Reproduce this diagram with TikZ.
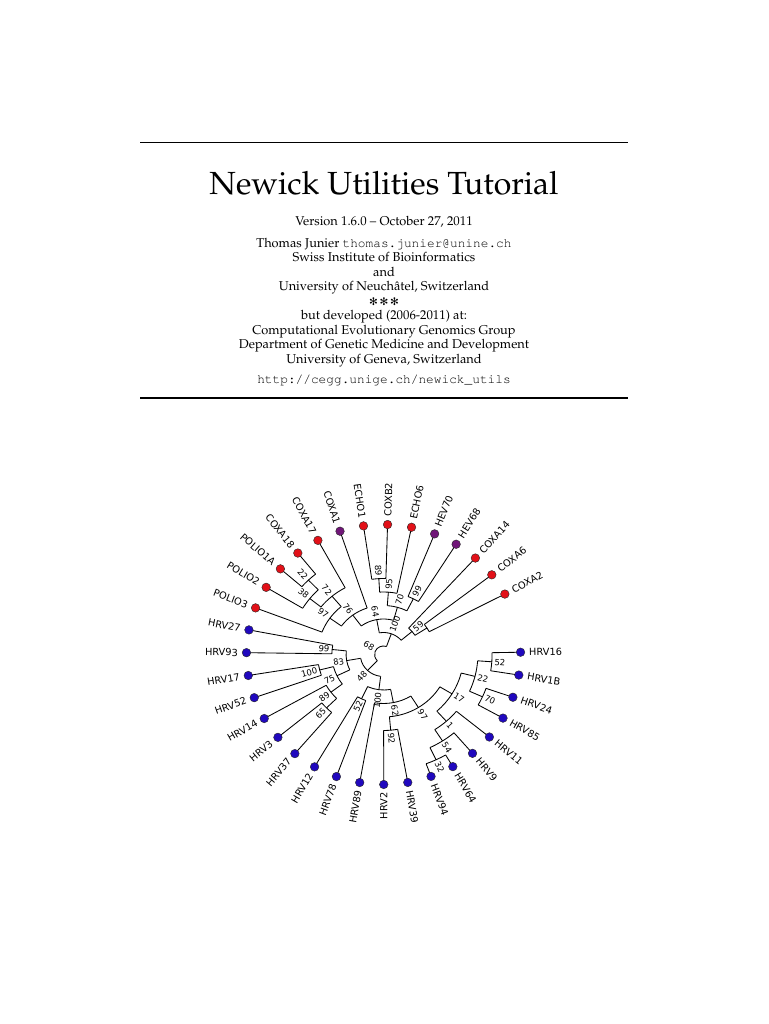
\documentclass[tikz,border=0pt]{standalone}
\usepackage[T1]{fontenc}
\usepackage{fontspec}
\newfontfamily\leaffont{DejaVu Sans}
\newcommand\pal{\fontencoding{T1}\fontfamily{ppl}\selectfont}
\newcommand\cour{\fontencoding{T1}\fontfamily{pcr}\selectfont}
\newcommand\titlefont{\pal\fontsize{32}{38}\selectfont}
\newcommand\bodyfont{\pal\fontsize{12.8}{14.5}\selectfont}
\newcommand\urlfont{\cour\fontsize{12.8}{14.5}\selectfont}
\newcommand\starfont{\leaffont\fontsize{10.5}{14.5}\selectfont}
\newcommand\leafsize{\leaffont\fontsize{9.8}{12}\selectfont}
\newcommand\supsize{\leaffont\fontsize{8.5}{10}\selectfont}

\definecolor{entred}{RGB}{226,16,24}
\definecolor{hevpurple}{RGB}{112,22,120}
\definecolor{hrvblue}{RGB}{32,8,190}

\tikzset{
  branch/.style={line width=0.85pt},
  leafdot/.style={circle, draw=black!85, line width=0.4pt, fill=#1, minimum size=8.6pt, inner sep=0pt},
  leafname/.style={font=\leafsize, inner sep=0pt},
  support/.style={font=\supsize, inner sep=1pt},
  rule/.style={line width=1.6pt},
}

% text set along a radius, turned so that it never reads upside down
\newcommand\radlabel[5]{%
  \pgfmathtruncatemacro\rgt{cos(#2)>0.01}%
  \ifnum\rgt=1
    \node[#4, rotate=#2, anchor=west] (#1) at (#2:#3) {#5};
  \else
    \node[#4, rotate=#2+180, anchor=east] (#1) at (#2:#3) {#5};
  \fi}

\begin{document}
\begin{tikzpicture}[x=1pt,y=1pt]
    \path[fill=white] (0,0) rectangle (768,1024);
    \useasboundingbox (0,0) rectangle (768,1024);

    % Title block
    \draw[rule] (140,881.3) -- (628,881.3);
    \node[font=\titlefont, anchor=base] (title) at (384,829) {Newick Utilities Tutorial};
    \node[font=\bodyfont, anchor=base] (version) at (384,798.3) {Version 1.6.0 -- October 27, 2011};
    \foreach \txt [count=\i] in {{Thomas Junier {\urlfont thomas.junier@unine.ch}},
        {Swiss Institute of Bioinformatics}, and, {University of Neuch\^atel, Switzerland},
        {{\starfont ✻\,✻\,✻}}, {but developed (2006-2011) at:},
        {Computational Evolutionary Genomics Group},
        {Department of Genetic Medicine and Development},
        {University of Geneva, Switzerland}}
      \node[font=\bodyfont, anchor=base] (line\i) at (384,{776.7-14.5*(\i-1)}) {\txt};
    \node[font=\urlfont, anchor=base] (url) at (384,640) {http://cegg.unige.ch/newick\_utils};
    \draw[rule] (140,625.7) -- (628,625.7);

    % Radial tree
    \begin{scope}[shift={(383.5,369.5)}, xscale=1.054]
      % branches: child / angle / child radius / parent radius
      \foreach \lf/\a/\rc/\rp in {
          nU/70.39/22/8.5, nL/226.42/22/8.5,
          nA/40.325/35.5/22, n64/100.45/35.5/22,
          nA1/32.75/49/35.5, COXA14/47.9/130/35.5,
          COXA2/27.7/130/49, COXA6/37.8/130/49,
          n70/74.41/49/35.5, nC76/126.49/49/35.5,
          nD/63.05/62.5/49, nB/85.775/62.5/49,
          HEV68/58.0/130/62.5, HEV70/68.1/130/62.5,
          ECHO6/78.2/130/62.5, nB1/93.35/76/62.5,
          COXB2/88.3/130/76, ECHO1/98.4/130/76,
          COXA1/108.5/130/49, nC97/144.48/62.5/49,
          nC72/129.96/76/62.5, POLIO3/159.0/130/62.5,
          COXA17/118.6/130/76, nC38/141.33/89.5/76,
          nC22/133.75/103/89.5, POLIO2/148.9/130/89.5,
          COXA18/128.7/130/103, POLIO1A/138.8/130/103,
          n83/189.93/35.5/22, nM/262.92/35.5/22,
          n99/174.15/49/35.5, n75/205.71/49/35.5,
          HRV27/169.1/130/49, HRV93/179.2/130/49,
          n100L/194.35/62.5/49, n89/217.08/62.5/49,
          HRV17/189.3/130/62.5, HRV52/199.4/130/62.5,
          HRV14/209.5/130/62.5, n65/224.65/76/62.5,
          HRV3/219.6/130/76, HRV37/229.7/130/76,
          n52a/244.85/49/35.5, n62/280.99/49/35.5,
          HRV12/239.8/130/49, HRV78/249.9/130/49,
          HRV89/260.0/130/49, n97/301.98/62.5/49,
          n92/275.15/76/62.5, n17/328.81/76/62.5,
          HRV2/270.1/130/76, HRV39/280.2/130/76,
          n1/311.76/89.5/76, n22b/345.85/89.5/76,
          n54/302.93/103/89.5, HRV11/320.6/130/89.5,
          n32/295.35/116.5/103, HRV9/310.5/130/103,
          HRV94/290.3/130/116.5, HRV64/300.4/130/116.5,
          n70b/335.75/103/89.5, n52b/355.95/103/89.5,
          HRV85/330.7/130/103, HRV24/340.8/130/103,
          HRV1B/350.9/130/103, HRV16/361.0/130/103}{
        \coordinate (\lf) at (\a:\rc);
        \coordinate (\lf-f) at (\a:\rp);
        \draw[branch] (\lf-f) -- (\lf);
      }

      % clade arcs: first child / radius / from / to
      \foreach \fc/\r/\aa/\ab in {
          nU/8.5/70.39/226.42, nA/22/40.325/100.45, n83/22/189.93/262.92,
          nA1/35.5/32.75/47.9, COXA2/49/27.7/37.8,
          n70/35.5/74.41/126.49, nD/49/63.05/85.775,
          HEV68/62.5/58.0/68.1, ECHO6/62.5/78.2/93.35, COXB2/76/88.3/98.4,
          COXA1/49/108.5/144.48, nC72/62.5/129.96/159.0,
          COXA17/76/118.6/141.33, nC22/89.5/133.75/148.9,
          COXA18/103/128.7/138.8,
          n99/35.5/174.15/205.71, HRV27/49/169.1/179.2,
          n100L/49/194.35/217.08, HRV17/62.5/189.3/199.4,
          HRV14/62.5/209.5/224.65, HRV3/76/219.6/229.7,
          n52a/35.5/244.85/280.99, HRV12/49/239.8/249.9,
          HRV89/49/260.0/301.98, n92/62.5/275.15/328.81,
          HRV2/76/270.1/280.2, n1/76/311.76/345.85,
          n54/89.5/302.93/320.6, n32/103/295.35/310.5,
          HRV94/116.5/290.3/300.4, n70b/89.5/335.75/355.95,
          HRV85/103/330.7/340.8, HRV1B/103/350.9/361.0}
        \draw[branch] (\fc-f) arc[start angle=\aa, end angle=\ab, radius=\r];

      % support values: name / angle / node radius / value
      \foreach \n/\a/\r/\v in {
          root/148.41/8.5/68, nU/70.39/22/100, nL/226.42/22/48,
          nA/40.325/35.5/59, n64/100.45/35.5/64, n70/74.41/49/70,
          nD/63.05/62.5/99, nB/85.775/62.5/95, nB1/93.35/76/89,
          nC76/126.49/49/76, nC97/144.48/62.5/97, nC72/129.96/76/72,
          nC38/141.33/89.5/38, nC22/133.75/103/22,
          n83/189.93/35.5/83, n99/174.15/49/99, n75/205.71/49/75,
          n100L/194.35/62.5/100, n89/217.08/62.5/89, n65/224.65/76/65,
          nM/262.92/35.5/100, n52a/244.85/49/52, n62/280.99/49/62,
          n97/301.98/62.5/97, n92/275.15/76/92, n17/328.81/76/17,
          n1/311.76/89.5/1, n54/302.93/103/54, n32/295.35/116.5/32,
          n22b/345.85/89.5/22, n70b/335.75/103/70, n52b/355.95/103/52}{
        \pgfmathsetmacro\rr{\r+1.5}
        \radlabel{s-\n}{\a}{\rr}{support}{\v}
      }

      % leaves
      \foreach \lf/\a/\col in {
          COXA2/27.7/entred, COXA6/37.8/entred, COXA14/47.9/entred,
          HEV68/58.0/hevpurple, HEV70/68.1/hevpurple, ECHO6/78.2/entred,
          COXB2/88.3/entred, ECHO1/98.4/entred, COXA1/108.5/hevpurple,
          COXA17/118.6/entred, COXA18/128.7/entred, POLIO1A/138.8/entred,
          POLIO2/148.9/entred, POLIO3/159.0/entred,
          HRV27/169.1/hrvblue, HRV93/179.2/hrvblue, HRV17/189.3/hrvblue,
          HRV52/199.4/hrvblue, HRV14/209.5/hrvblue, HRV3/219.6/hrvblue,
          HRV37/229.7/hrvblue, HRV12/239.8/hrvblue, HRV78/249.9/hrvblue,
          HRV89/260.0/hrvblue, HRV2/270.1/hrvblue, HRV39/280.2/hrvblue,
          HRV94/290.3/hrvblue, HRV64/300.4/hrvblue, HRV9/310.5/hrvblue,
          HRV11/320.6/hrvblue, HRV85/330.7/hrvblue, HRV24/340.8/hrvblue,
          HRV1B/350.9/hrvblue, HRV16/361.0/hrvblue}{
        \node[leafdot=\col] (\lf-dot) at (\lf) {};
        \radlabel{\lf-name}{\a}{138}{leafname}{\lf}
      }
    \end{scope}
\end{tikzpicture}
\end{document}
